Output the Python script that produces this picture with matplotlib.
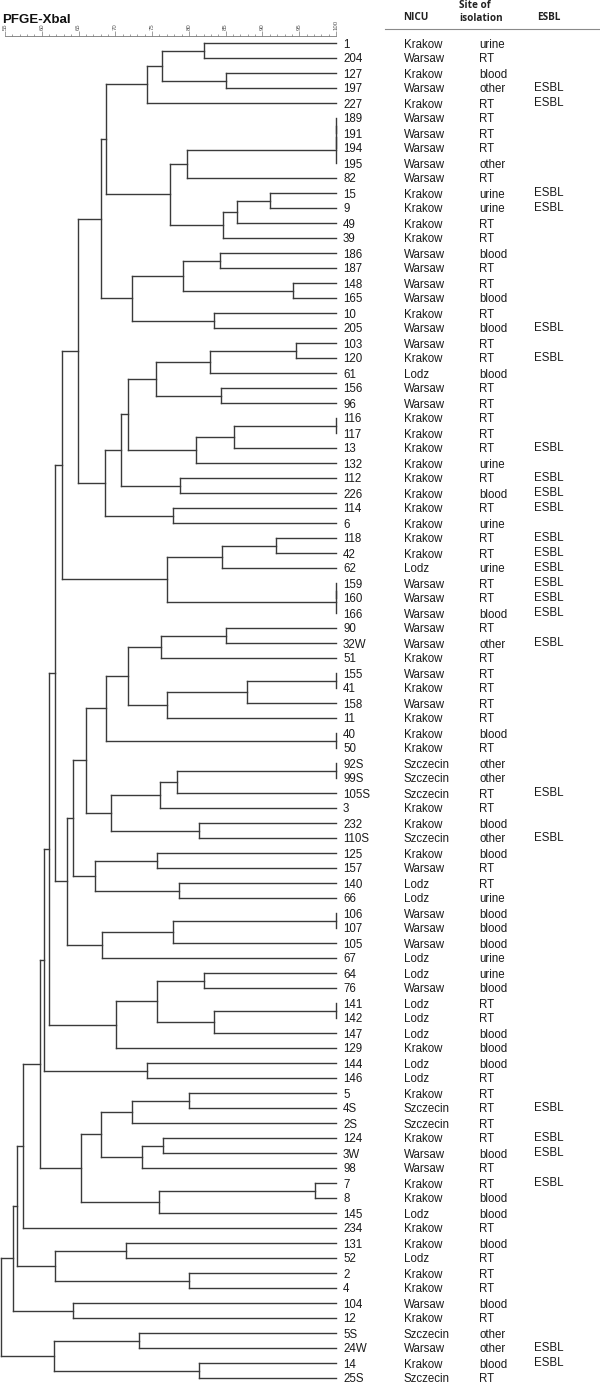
import matplotlib
matplotlib.use("Agg")
import matplotlib.pyplot as plt
from matplotlib.transforms import blended_transform_factory

# ---------------- data ----------------
isolates = ["1", "204", "127", "197", "227", "189", "191", "194", "195", "82",
            "15", "9", "49", "39", "186", "187", "148", "165", "10", "205",
            "103", "120", "61", "156", "96", "116", "117", "13", "132", "112",
            "226", "114", "6", "118", "42", "62", "159", "160", "166", "90",
            "32W", "51", "155", "41", "158", "11", "40", "50", "92S", "99S",
            "105S", "3", "232", "110S", "125", "157", "140", "66", "106", "107",
            "105", "67", "64", "76", "141", "142", "147", "129", "144", "146",
            "5", "4S", "2S", "124", "3W", "98", "7", "8", "145", "234",
            "131", "52", "2", "4", "104", "12", "5S", "24W", "14", "25S"]

nicu = ["Krakow", "Warsaw", "Krakow", "Warsaw", "Krakow", "Warsaw", "Warsaw", "Warsaw", "Warsaw", "Warsaw",
        "Krakow", "Krakow", "Krakow", "Krakow", "Warsaw", "Warsaw", "Warsaw", "Warsaw", "Krakow", "Warsaw",
        "Warsaw", "Krakow", "Lodz", "Warsaw", "Warsaw", "Krakow", "Krakow", "Krakow", "Krakow", "Krakow",
        "Krakow", "Krakow", "Krakow", "Krakow", "Krakow", "Lodz", "Warsaw", "Warsaw", "Warsaw", "Warsaw",
        "Warsaw", "Krakow", "Warsaw", "Krakow", "Warsaw", "Krakow", "Krakow", "Krakow", "Szczecin", "Szczecin",
        "Szczecin", "Krakow", "Krakow", "Szczecin", "Krakow", "Warsaw", "Lodz", "Lodz", "Warsaw", "Warsaw",
        "Warsaw", "Lodz", "Lodz", "Warsaw", "Lodz", "Lodz", "Lodz", "Krakow", "Lodz", "Lodz",
        "Krakow", "Szczecin", "Szczecin", "Krakow", "Warsaw", "Warsaw", "Krakow", "Krakow", "Lodz", "Krakow",
        "Krakow", "Lodz", "Krakow", "Krakow", "Warsaw", "Krakow", "Szczecin", "Warsaw", "Krakow", "Szczecin"]

site = ["urine", "RT", "blood", "other", "RT", "RT", "RT", "RT", "other", "RT",
        "urine", "urine", "RT", "RT", "blood", "RT", "RT", "blood", "RT", "blood",
        "RT", "RT", "blood", "RT", "RT", "RT", "RT", "RT", "urine", "RT",
        "blood", "RT", "urine", "RT", "RT", "urine", "RT", "RT", "blood", "RT",
        "other", "RT", "RT", "RT", "RT", "RT", "blood", "RT", "other", "other",
        "RT", "RT", "blood", "other", "blood", "RT", "RT", "urine", "blood", "blood",
        "blood", "urine", "urine", "blood", "RT", "RT", "blood", "blood", "blood", "RT",
        "RT", "RT", "RT", "RT", "blood", "RT", "RT", "blood", "blood", "RT",
        "blood", "RT", "RT", "RT", "blood", "RT", "other", "other", "blood", "RT"]

esbl_rows = [3, 4, 10, 11, 19, 21, 27, 29, 30, 31, 33, 34, 35, 36, 37, 38,
             40, 50, 53, 71, 73, 74, 76, 87, 88]

# internal nodes: (first leaf, split leaf, end leaf (exclusive), similarity %)
merges = [
    (0, 1, 2, 82.1), (2, 3, 4, 85.0), (0, 2, 4, 76.3), (0, 4, 5, 74.3),
    (5, 6, 7, 100), (5, 7, 8, 100), (5, 8, 9, 100), (5, 9, 10, 79.8),
    (10, 11, 12, 91.0), (10, 12, 13, 86.5), (10, 13, 14, 84.6), (5, 10, 14, 77.4),
    (0, 5, 14, 68.7),
    (14, 15, 16, 84.2), (16, 17, 18, 94.1), (14, 16, 18, 79.2), (18, 19, 20, 83.4),
    (14, 18, 20, 72.2), (0, 14, 20, 68.0),
    (20, 21, 22, 94.5), (20, 22, 23, 82.9), (23, 24, 25, 84.3), (20, 23, 25, 75.5),
    (25, 26, 27, 100), (25, 27, 28, 86.2), (25, 28, 29, 81.0), (20, 25, 29, 71.7),
    (29, 30, 31, 78.8), (20, 29, 31, 70.8), (31, 32, 33, 77.8), (20, 31, 33, 68.6),
    (0, 20, 33, 64.9),
    (33, 34, 35, 91.8), (33, 35, 36, 84.5), (36, 37, 38, 100), (36, 38, 39, 100),
    (33, 36, 39, 77.0), (0, 33, 39, 62.8),
    (39, 40, 41, 85.0), (39, 41, 42, 76.2), (42, 43, 44, 100), (42, 44, 45, 87.9),
    (42, 45, 46, 77.0), (39, 42, 46, 71.7), (46, 47, 48, 100), (39, 46, 48, 68.7),
    (48, 49, 50, 100), (48, 50, 51, 78.4), (48, 51, 52, 76.1), (52, 53, 54, 81.4),
    (48, 52, 54, 69.4), (39, 48, 54, 66.0),
    (54, 55, 56, 75.6), (56, 57, 58, 78.7), (54, 56, 58, 67.2), (39, 54, 58, 64.2),
    (58, 59, 60, 100), (58, 60, 61, 77.8), (58, 61, 62, 68.2), (39, 58, 62, 63.4),
    (0, 39, 62, 61.8),
    (62, 63, 64, 82.1), (64, 65, 66, 100), (64, 66, 67, 83.4), (62, 64, 67, 75.6),
    (62, 67, 68, 70.1), (0, 62, 68, 61.0),
    (68, 69, 70, 74.3), (0, 68, 70, 60.3),
    (70, 71, 72, 80.0), (70, 72, 73, 72.2), (73, 74, 75, 76.5), (73, 75, 76, 73.6),
    (70, 73, 76, 68.0), (76, 77, 78, 97.2), (76, 78, 79, 76.0), (70, 76, 79, 65.3),
    (0, 70, 79, 59.8), (0, 79, 80, 57.4),
    (80, 81, 82, 71.5), (82, 83, 84, 80.0), (80, 82, 84, 61.8), (0, 80, 84, 56.6),
    (84, 85, 86, 64.3), (0, 84, 86, 56.1),
    (86, 87, 88, 73.2), (88, 89, 90, 81.4), (86, 88, 90, 61.6), (0, 86, 90, 54.5),
]

scale_ticks = [55, 60, 65, 70, 75, 80, 85, 90, 95, 100]

# ---------------- figure ----------------
W, H = 600, 1386
fig = plt.figure(figsize=(W / 100, H / 100), dpi=100)

ov = fig.add_axes([0, 0, 1, 1])
ov.set_xlim(0, W)
ov.set_ylim(H, 0)
ov.axis("off")

row0_px, row_step = 43.0, 15.0
top_px = 35.5
n = len(isolates)
ax = fig.add_axes([5 / W, 0, (336 - 5) / W, (H - top_px) / H])
ax.set_xlim(55, 100)
ax.set_ylim((n - 1) + (H - (row0_px + row_step * (n - 1))) / row_step,
            -(row0_px - top_px) / row_step)
ax.patch.set_alpha(0)

line_kw = dict(color="#3a3a3a", lw=1.0, clip_on=False, solid_capstyle="projecting")
node_map = {(s, e): (sp, sim) for s, sp, e, sim in merges}


def draw(s, e):
    if e - s == 1:
        return 100.0, float(s)
    sp, sim = node_map[(s, e)]
    xl, yl = draw(s, sp)
    xr, yr = draw(sp, e)
    ax.plot([sim, sim], [yl, yr], **line_kw)
    if xl != sim:
        ax.plot([sim, xl], [yl, yl], **line_kw)
    if xr != sim:
        ax.plot([sim, xr], [yr, yr], **line_kw)
    return sim, (yl + yr) / 2


draw(0, n)

# scale on top
for sp_name in ["left", "right", "bottom"]:
    ax.spines[sp_name].set_visible(False)
ax.spines["top"].set_color("#777777")
ax.spines["top"].set_linewidth(0.6)
ax.xaxis.tick_top()
ax.set_xticks(scale_ticks)
ax.set_xticks(range(55, 101), minor=True)
ax.set_xticklabels([str(t) for t in scale_ticks], rotation=90, fontsize=4.3,
                   color="#555555", family="Liberation Sans")
ax.tick_params(axis="x", which="major", length=3.5, width=0.5, color="#777777", pad=0.5)
ax.tick_params(axis="x", which="minor", length=1.5, width=0.5, color="#777777")
ax.set_yticks([])

# title
ov.text(2, 23, "PFGE-XbaI", fontsize=9.5, fontweight="bold", family="Liberation Sans",
        va="baseline", ha="left", color="#111111")

# headers
hdr = dict(family="Open Sans", fontweight="bold", fontsize=7.2, color="#222222",
           va="baseline", ha="left")
ov.text(403, 19.5, "NICU", **hdr)
ov.text(459, 8.5, "Site of", **hdr)
ov.text(459, 21, "isolation", **hdr)
ov.text(537, 19.5, "ESBL", **hdr)
ov.plot([385, 600], [28.5, 28.5], color="#8a8a8a", lw=0.8)

# row texts
tr = blended_transform_factory(ov.transData, ax.transData)
txt = dict(family="Liberation Sans", fontsize=8.3, color="#1a1a1a",
           va="center_baseline", ha="left", transform=tr, clip_on=False)
for i in range(n):
    ov.text(343, i, isolates[i], **txt)
    ov.text(404, i, nicu[i], **txt)
    ov.text(479, i, site[i], **txt)
for i in esbl_rows:
    ov.text(534, i - 0.12, "ESBL", **txt)

fig.savefig("out.png", dpi=100)
